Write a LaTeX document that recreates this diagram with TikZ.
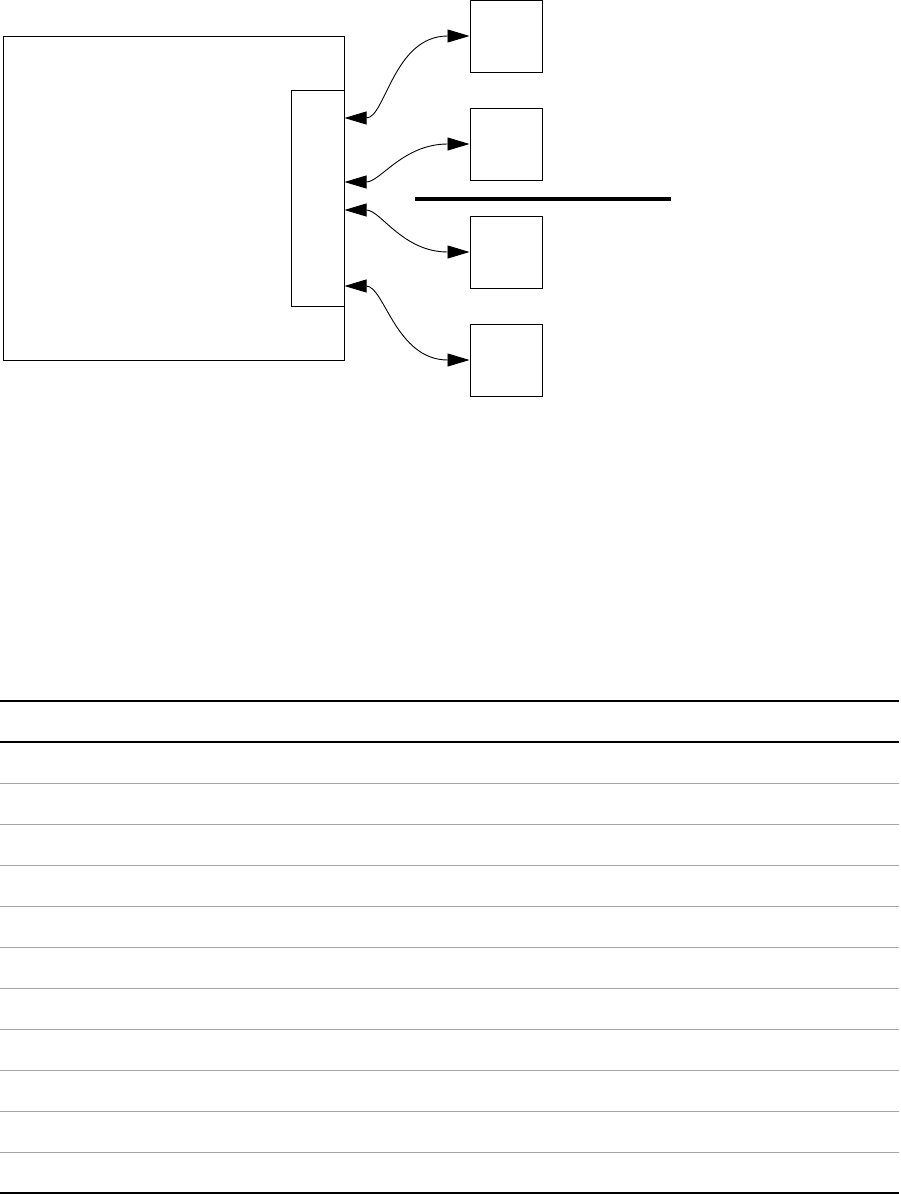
\documentclass[tikz,border=0pt]{standalone}
\usepackage{xcolor}
\usepackage{tikz}
\usetikzlibrary{arrows.meta}

\definecolor{rulegray}{HTML}{A6A6A6}

\begin{document}
\begin{tikzpicture}[x=1pt, y=-1pt,
  box/.style={draw, line width=1pt, inner sep=0pt, minimum width=72pt, minimum height=72pt},
  arr/.style={{Triangle[length=22pt, width=13pt]}-{Triangle[length=22pt, width=13pt]}, line width=0.9pt},
  sbend/.style={out=0, in=180, out looseness=0.7, in looseness=1.3},
]
\useasboundingbox (0,0) rectangle (901,1194);

% main unit and its port block
\node[draw, line width=1pt, inner sep=0pt, minimum width=341pt, minimum height=324pt] (host) at (173.5,198) {};
\node[draw, line width=1pt, inner sep=0pt, minimum width=53pt, minimum height=216pt] (port) at (317.5,198) {};

% attached units
\node[box] (u1) at (506,36) {};
\node[box] (u2) at (506,144) {};
\node[box] (u3) at (506,252) {};
\node[box] (u4) at (506,360) {};

% separator bar
\coordinate (barl) at (415,199);
\coordinate (barr) at (671,199);
\draw[line width=4pt] (barl) -- (barr);

\draw[arr] ([yshift=80pt]port.east)  to[sbend] (u1.west);
\draw[arr] ([yshift=16pt]port.east)  to[sbend] (u2.west);
\draw[arr] ([yshift=-12pt]port.east) to[sbend] (u3.west);
\draw[arr] ([yshift=-88pt]port.east) to[sbend] (u4.west);

% table rules
\draw[line width=1.3pt] (0,701) -- (899,701);
\draw[line width=1.3pt] (0,742) -- (899,742);
\foreach \y in {783,824,865,906,947,988,1029,1070,1111,1152}
  \draw[rulegray, line width=1pt] (0,\y) -- (899,\y);
\draw[line width=1.3pt] (0,1193) -- (899,1193);
\end{tikzpicture}
\end{document}
